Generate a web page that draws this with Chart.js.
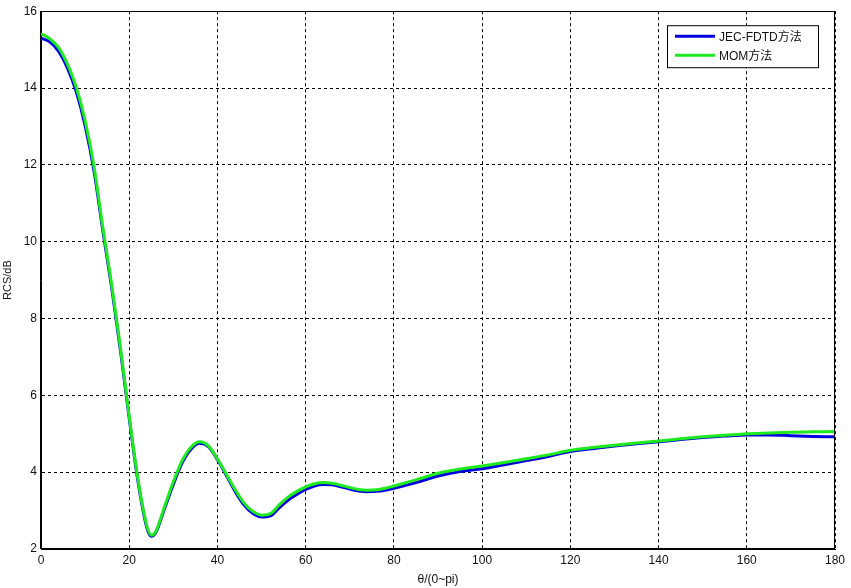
<!DOCTYPE html>
<html>
<head>
<meta charset="utf-8">
<script src="https://cdn.jsdelivr.net/npm/chart.js@4"></script>
<style>
  html, body { margin: 0; padding: 0; background: #fff; }
  canvas { display: block; }
</style>
</head>
<body>
<canvas id="rcs" width="851" height="588"></canvas>
<script>
// θ in degrees (0~pi), RCS in dB
const angles = [0, 2, 4, 6, 8, 10, 12, 14, 16, 18, 20, 22, 24, 25, 26, 28, 30, 32, 34, 36, 38, 40,
  42, 44, 46, 48, 50, 52, 54, 56, 58, 60, 62, 64, 66, 68, 70, 72, 74, 76, 78, 80,
  85, 90, 95, 100, 105, 110, 115, 120, 125, 130, 135, 140, 145, 150, 155, 160, 165, 170, 175, 180]

const jecFdtd = [15.30, 15.20, 14.95, 14.52, 13.90, 13.02, 11.85, 10.30, 8.82, 7.18, 5.40, 3.75, 2.55, 2.33, 2.42, 3.05, 3.68, 4.24, 4.60, 4.75, 4.66, 4.33,
  3.92, 3.50, 3.15, 2.93, 2.83, 2.86, 3.07, 3.27, 3.42, 3.55, 3.64, 3.68, 3.67, 3.62, 3.56, 3.51, 3.49, 3.50, 3.53, 3.58,
  3.73, 3.90, 4.02, 4.09, 4.19, 4.30, 4.41, 4.54, 4.61, 4.68, 4.74, 4.79, 4.85, 4.90, 4.94, 4.97, 4.97, 4.95, 4.93, 4.92]

const mom = [15.42, 15.28, 15.05, 14.62, 14.02, 13.15, 11.97, 10.38, 8.90, 7.25, 5.45, 3.80, 2.60, 2.36, 2.45, 3.10, 3.75, 4.30, 4.65, 4.79, 4.68, 4.35,
  3.95, 3.55, 3.20, 2.98, 2.88, 2.92, 3.15, 3.35, 3.50, 3.62, 3.70, 3.73, 3.71, 3.66, 3.60, 3.55, 3.53, 3.54, 3.58, 3.64,
  3.80, 3.97, 4.08, 4.16, 4.25, 4.35, 4.45, 4.57, 4.64, 4.70, 4.76, 4.81, 4.87, 4.92, 4.96, 5.00, 5.02, 5.04, 5.05, 5.06]

const xTicks = [0, 20, 40, 60, 80, 100, 120, 140, 160, 180]
const yTicks = [2, 4, 6, 8, 10, 12, 14, 16]

const FONT = '"Liberation Sans", Arial, "Noto Sans CJK SC", sans-serif'

const toPoints = (ys) => angles.map((a, i) => ({ x: a, y: ys[i] }))

// MATLAB style closed box round the axes
const axesBox = {
  id: 'axesBox',
  afterDraw(chart) {
    const { ctx, chartArea: a } = chart
    ctx.save()
    ctx.strokeStyle = '#000'
    ctx.lineWidth = 1
    ctx.strokeRect(Math.round(a.left) - 0.5, Math.round(a.top) + 0.5,
      Math.round(a.right - a.left), Math.round(a.bottom - a.top) - 1)
    ctx.restore()
  }
}

// legend drawn inside the axes, top right
const boxLegend = {
  id: 'boxLegend',
  afterDraw(chart) {
    const { ctx, chartArea: a } = chart
    const w = 151, h = 42
    const x = a.right - 17 - w
    const y = a.top + 14
    ctx.save()
    ctx.fillStyle = '#fff'
    ctx.fillRect(x, y, w, h)
    ctx.strokeStyle = '#000'
    ctx.lineWidth = 1
    ctx.strokeRect(x + 0.5, y + 0.5, w, h)
    ctx.font = '12px ' + FONT
    ctx.textBaseline = 'middle'
    chart.data.datasets.forEach((ds, i) => {
      const ly = y + 11 + i * 19
      ctx.strokeStyle = ds.borderColor
      ctx.lineWidth = 3
      ctx.beginPath()
      ctx.moveTo(x + 8, ly)
      ctx.lineTo(x + 48, ly)
      ctx.stroke()
      ctx.fillStyle = '#111'
      ctx.fillText(ds.label, x + 52, ly + 1)
    })
    ctx.restore()
  }
}

new Chart(document.getElementById('rcs'), {
  type: 'line',
  data: {
    datasets: [
      {
        label: 'JEC-FDTD方法',
        data: toPoints(jecFdtd),
        borderColor: 'rgb(0, 0, 225)',
        borderWidth: 3,
        pointRadius: 0,
        cubicInterpolationMode: 'monotone',
        order: 1
      },
      {
        label: 'MOM方法',
        data: toPoints(mom),
        borderColor: 'rgb(30, 235, 30)',
        borderWidth: 3,
        pointRadius: 0,
        cubicInterpolationMode: 'monotone',
        order: 0
      }
    ]
  },
  options: {
    responsive: false,
    animation: false,
    layout: { padding: { top: 10, right: 16, left: 0, bottom: 0 } },
    plugins: {
      legend: { display: false },
      tooltip: { enabled: false }
    },
    scales: {
      x: {
        type: 'linear',
        min: 0,
        max: 180,
        afterBuildTicks: (scale) => { scale.ticks = xTicks.map(v => ({ value: v })) },
        afterFit: (scale) => { scale.height = 39 },
        grid: { color: '#000', lineWidth: 1, drawTicks: false },
        border: { display: true, color: '#000', dash: [3, 3] },
        ticks: { color: '#111', padding: 4, maxRotation: 0, font: { family: FONT, size: 12 } },
        title: {
          display: true,
          text: 'θ/(0~pi)',
          color: '#111',
          padding: { top: 0, bottom: 1 },
          font: { family: FONT, size: 12 }
        }
      },
      y: {
        min: 2,
        max: 16,
        afterBuildTicks: (scale) => { scale.ticks = yTicks.map(v => ({ value: v })) },
        afterFit: (scale) => { scale.width = 41 },
        grid: { color: '#000', lineWidth: 1, drawTicks: false },
        border: { display: true, color: '#000', dash: [3, 3] },
        ticks: { color: '#111', padding: 4, font: { family: FONT, size: 12 } },
        title: {
          display: true,
          text: 'RCS/dB',
          color: '#111',
          padding: { top: 1.5, bottom: 0 },
          font: { family: FONT, size: 11 }
        }
      }
    }
  },
  plugins: [axesBox, boxLegend]
})
</script>
</body>
</html>
